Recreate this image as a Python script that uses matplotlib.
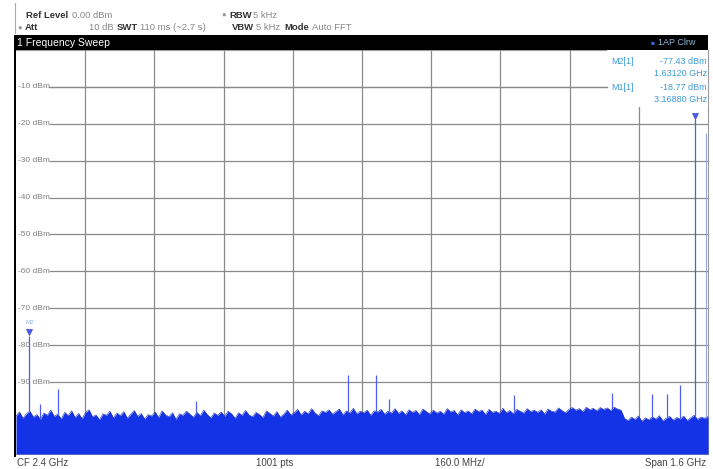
import numpy as np
import matplotlib
matplotlib.use("Agg")
import matplotlib.pyplot as plt
from matplotlib.patches import Rectangle

plt.rcParams["font.family"] = ["Liberation Sans", "DejaVu Sans"]

W, H = 713, 469

# --- data ---
f_start, f_stop = 1.6, 3.2          # GHz (CF 2.4 GHz, span 1.6 GHz)
ref_levels = [-10, -20, -30, -40, -50, -60, -70, -80, -90]
ylabels = ["-10 dBm", "-20 dBm", "-30 dBm", "-40 dBm", "-50 dBm",
           "-60 dBm", "-70 dBm", "-80 dBm", "-90 dBm"]

noise_floor = [
    -99.2, -98.1, -99.8, -98.6, -97.9, -99.5, -98.8, -100.1, -98.4, -99.0,
    -97.6, -99.3, -98.7, -100.0, -98.2, -99.1, -97.8, -99.6, -98.5, -99.9,
    -98.3, -97.5, -99.4, -98.9, -100.2, -98.6, -99.0, -97.9, -99.7, -98.4,
    -99.1, -98.0, -99.8, -98.7, -97.7, -99.3, -98.5, -100.0, -98.8, -99.2,
    -98.1, -99.6, -97.8, -98.9, -99.4, -98.3, -100.1, -98.6, -99.0, -97.9,
    -98.7, -99.5, -98.2, -99.1, -97.6, -98.8, -99.7, -98.4, -99.0, -98.1,
    -99.3, -97.9, -98.6, -99.8, -98.3, -99.0, -97.7, -98.9, -99.4, -98.2,
    -98.8, -99.6, -97.8, -98.5, -99.2, -98.0, -99.5, -98.7, -97.6, -98.9,
    -98.3, -97.4, -98.9, -97.9, -98.6, -97.2, -98.4, -99.1, -97.8, -98.2,
    -97.5, -98.7, -98.0, -97.3, -98.9, -97.8, -98.4, -97.1, -98.6, -97.9,
    -98.3, -97.6, -99.0, -97.8, -98.1, -97.4, -98.7, -97.9, -98.4, -97.2,
    -98.5, -97.8, -98.9, -97.5, -98.2, -97.7, -98.8, -97.3, -98.0, -98.6,
    -97.6, -98.4, -97.9, -98.7, -97.2, -98.1, -97.7, -98.9, -97.5, -98.3,
    -97.8, -98.6, -97.3, -98.0, -97.6, -98.8, -97.4, -98.2, -97.9, -98.5,
    -97.1, -98.3, -97.7, -98.6, -97.4, -97.9, -98.4, -97.2, -98.0, -97.6,
    -98.2, -97.5, -98.7, -97.3, -97.9, -98.1, -97.0, -97.7, -98.3, -97.4,
    -96.9, -97.6, -97.2, -98.0, -96.8, -97.5, -97.1, -97.8, -96.9, -97.4,
    -97.0, -97.7, -96.8, -97.3, -97.6,
    -99.9, -100.4, -99.5, -100.1, -99.2, -100.6, -99.7, -100.2, -99.4, -100.0,
    -99.1, -100.5, -99.8, -99.3, -100.3, -99.6, -100.0, -99.2, -100.4, -99.7,
    -99.0, -100.1, -99.5, -99.8, -99.3,
]

spike_freq = [1.6312, 1.655, 1.697, 2.016, 2.368, 2.432, 2.462, 2.751,
              2.978, 3.071, 3.105, 3.135, 3.1688]
spike_level = [-77.43, -96.0, -92.0, -95.0, -88.2, -88.2, -94.5, -93.5,
               -93.0, -93.3, -93.3, -90.7, -18.77]
edge_freq, edge_level = 3.195, -22.5

markers = {"M1": (3.1688, -18.77), "M2": (1.6312, -77.43)}

BLUE = "#1432e6"
DARK = "#1a2bb8"
SPIKE = "#4e5ef0"
MK = "#3d9ad6"
GRID = "#8a8a8a"


def px(x, y):
    return x / W, 1 - y / H


fig = plt.figure(figsize=(W / 100, H / 100), dpi=100)
fig.patch.set_facecolor("white")

# plot area
x0, x1, y0, y1 = 16, 708, 50, 454
ax = fig.add_axes([x0 / W, 1 - y1 / H, (x1 - x0) / W, (y1 - y0) / H])
ymin, ymax = -109.5, 0
ax.set_xlim(f_start, f_stop)
ax.set_ylim(ymin, ymax)
ax.set_xticks([])
ax.set_yticks([])
for s in ax.spines.values():
    s.set_color("#9a9a9a")
    s.set_linewidth(0.8)
ax.spines["left"].set_visible(False)

# grid
vgrid = np.linspace(f_start, f_stop, 11)[1:-1]
for f in vgrid:
    ax.axvline(f, color=GRID, lw=0.9, zorder=1)
label_end = f_start + (49 - x0) / (x1 - x0) * (f_stop - f_start)
for lv, lab in zip(ref_levels, ylabels):
    ax.hlines(lv, label_end, f_stop, color=GRID, lw=0.9, zorder=1)
    ax.text(f_start + 0.005, lv, lab, fontsize=6, color="#808080",
            va="center", ha="left", zorder=2)

# trace
freq = np.linspace(f_start, f_stop, len(noise_floor))
ax.fill_between(freq, noise_floor, ymin, color=BLUE, lw=0, zorder=3)
ax.plot(freq, noise_floor, color=DARK, lw=0.4, zorder=4)
base = np.interp(spike_freq, freq, noise_floor)
ax.vlines(spike_freq, base, spike_level, color=SPIKE, lw=0.9, zorder=4)
ax.vlines(edge_freq, -99.5, edge_level, color="#9aa6e8", lw=0.8, zorder=4)

# marker box (white) covering grid
fig.patches.append(Rectangle(px(607, 107), (x1 - 607) / W, 57 / H,
                             transform=fig.transFigure, facecolor="white",
                             edgecolor="none", zorder=5))

for name, (mf, ml) in markers.items():
    ax.plot(mf, ml + 1.0, marker="v", color=SPIKE, ms=4, mec=DARK,
            mew=0.4, zorder=6)
    ax.text(mf, ml + 3.0, name, fontsize=4.5, color="#8fb7e0",
            ha="center", va="bottom", zorder=6)

# marker readouts
fs = 6.5
fig.text(*px(634, 61), "M2[1]", fontsize=fs, color=MK, ha="right", va="center", zorder=7)
fig.text(*px(707, 61), "-77.43 dBm", fontsize=fs, color=MK, ha="right", va="center", zorder=7)
fig.text(*px(707, 73), "1.63120 GHz", fontsize=fs, color=MK, ha="right", va="center", zorder=7)
fig.text(*px(634, 87), "M1[1]", fontsize=fs, color=MK, ha="right", va="center", zorder=7)
fig.text(*px(707, 87), "-18.77 dBm", fontsize=fs, color=MK, ha="right", va="center", zorder=7)
fig.text(*px(707, 99), "3.16880 GHz", fontsize=fs, color=MK, ha="right", va="center", zorder=7)
fig.lines.append(plt.Line2D([49 / W, 607 / W], [1 - 87 / H, 1 - 87 / H],
                            transform=fig.transFigure, color=GRID, lw=0.9, zorder=6))

# black title bar + left border
fig.patches.append(Rectangle(px(14, 50), (x1 - 14) / W, 15 / H,
                             transform=fig.transFigure, facecolor="black",
                             edgecolor="none", zorder=3))
fig.patches.append(Rectangle(px(14, 457), 2.2 / W, 422 / H,
                             transform=fig.transFigure, facecolor="black",
                             edgecolor="none", zorder=3))
fig.text(*px(17, 42.5), "1 Frequency Sweep", fontsize=7.5, color="white",
         ha="left", va="center")
fig.text(*px(651, 42.5), "\u25a0", fontsize=4.5, color="#2f6df0", ha="left", va="center")
fig.text(*px(658, 42.5), "1AP Clrw", fontsize=6.5, color="#8fb7e0", ha="left", va="center")

# header settings
hb = dict(fontsize=6.8, color="#333333", fontweight="bold", va="center")
hn = dict(fontsize=6.8, color="#888888", va="center")
dot = dict(fontsize=5.5, color="#999999", va="center")
fig.lines.append(plt.Line2D([15 / W, 15 / W], [1 - 3 / H, 1 - 33 / H],
                            transform=fig.transFigure, color="#aaaaaa", lw=0.8))
fig.text(*px(26, 15), "Ref Level", **hb)
fig.text(*px(72, 15), "0.00 dBm", **hn)
fig.text(*px(17, 28), "\u25cf", **dot)
fig.text(*px(25, 28), "Att", **hb)
fig.text(*px(89, 28), "10 dB", **hn)
fig.text(*px(117, 28), "SWT", **hb)
fig.text(*px(140, 28), "110 ms (~2.7 s)", **hn)
fig.text(*px(221, 15), "\u25cf", **dot)
fig.text(*px(229, 15), "RBW", **hb)
fig.text(*px(253, 15), "5 kHz", **hn)
fig.text(*px(232, 28), "VBW", **hb)
fig.text(*px(256, 28), "5 kHz", **hn)
fig.text(*px(284, 28), "Mode", **hb)
fig.text(*px(312, 28), "Auto FFT", **hn)

# footer
ff = dict(fontsize=7, color="#444444", va="center")
fig.text(*px(17, 463), "CF 2.4 GHz", ha="left", **ff)
fig.text(*px(275, 463), "1001 pts", ha="center", **ff)
fig.text(*px(460, 463), "160.0 MHz/", ha="center", **ff)
fig.text(*px(706, 463), "Span 1.6 GHz", ha="right", **ff)

fig.savefig("out.png", dpi=100)
